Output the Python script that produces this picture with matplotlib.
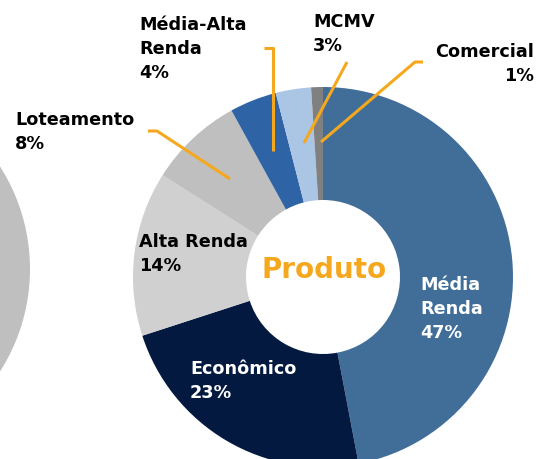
import matplotlib.pyplot as plt

produtos = ["Média Renda", "Econômico", "Alta Renda", "Loteamento",
            "Média-Alta Renda", "MCMV", "Comercial"]
percentuais = [47, 23, 14, 8, 4, 3, 1]
cores = ["#406E99", "#03193F", "#D0D0D0", "#BFBFBF",
         "#2E63A5", "#ABC5E5", "#808080"]

rotulos = ["Média\nRenda\n47%", "Econômico\n23%", "Alta Renda\n14%",
           "Loteamento\n8%", "Média-Alta\nRenda\n4%", "MCMV\n3%",
           "Comercial\n1%"]

laranja = "#F5A81E"
W, H = 536, 460

fig = plt.figure(figsize=(5.36, 4.60), dpi=100)
ax = fig.add_axes([0, 0, 1, 1])

# donut cortado a esquerda (outro grafico)
ax.pie([1], colors=["#BFBFBF"], center=(-160, H - 270), radius=190,
       wedgeprops=dict(width=114, linewidth=0))

ax.pie(percentuais, colors=cores, startangle=90, counterclock=False,
       center=(323, H - 278), radius=190,
       wedgeprops=dict(width=113, linewidth=0))

ax.set_xlim(0, W)
ax.set_ylim(0, H)
ax.set_aspect("equal")
ax.axis("off")

fs = 12.7
kw = dict(fontsize=fs, fontweight="bold", va="top", linespacing=1.42,
          family="DejaVu Sans")

# (x, y topo, alinhamento, cor) em pixels
pos = {
    "Média Renda": (420, 276, "left", "white"),
    "Econômico": (190, 360, "left", "white"),
    "Alta Renda": (139, 233, "left", "black"),
    "Loteamento": (15, 111, "left", "black"),
    "Média-Alta Renda": (139, 16, "left", "black"),
    "MCMV": (313, 13, "left", "black"),
    "Comercial": (534, 43, "right", "black"),
}
for nome, txt in zip(produtos, rotulos):
    x, y, ha, c = pos[nome]
    ax.text(x, H - y, txt, ha=ha, color=c, **kw)

# linhas de chamada
linhas = [
    [(264, 49), (273, 49), (273, 152)],
    [(347, 63), (304, 144)],
    [(423, 63), (415, 63), (321, 143)],
    [(148, 132), (157, 132), (230, 180)],
]
for pts in linhas:
    xs = [p[0] for p in pts]
    ys = [H - p[1] for p in pts]
    ax.plot(xs, ys, color=laranja, lw=2.2, solid_capstyle="butt")

ax.text(324, H - 270, "Produto", ha="center", va="center", color=laranja,
        fontsize=20, fontweight="bold", family="DejaVu Sans")

fig.savefig("out.png", dpi=100)
